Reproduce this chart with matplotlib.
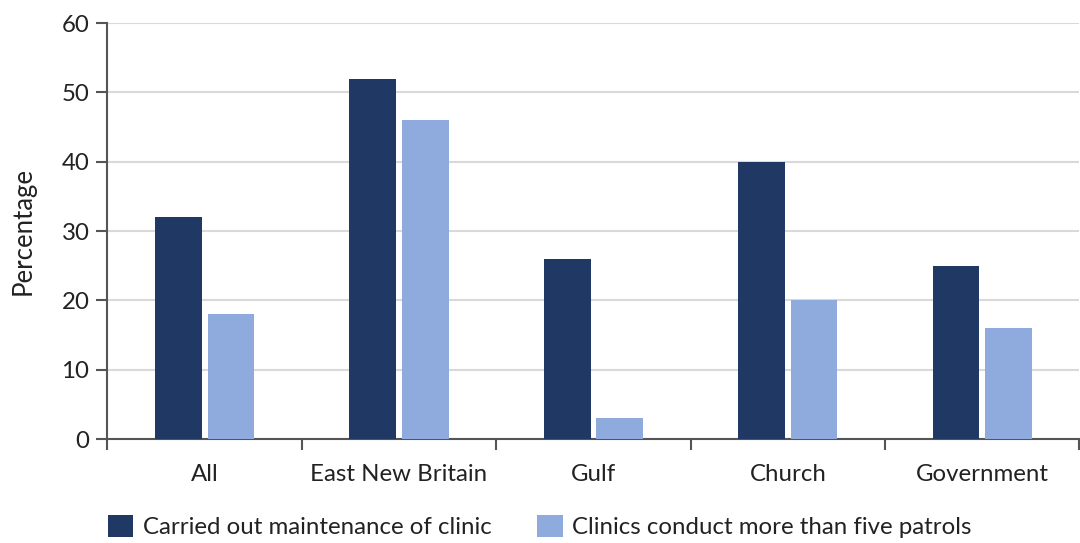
import matplotlib.pyplot as plt
import numpy as np

categories = ['All', 'East New Britain', 'Gulf', 'Church', 'Government']
maintenance = [32, 52, 26, 40, 25]
patrols = [18, 46, 3, 20, 16]
series_names = ['Carried out maintenance of clinic',
                'Clinics conduct more than five patrols']

plt.rcParams['font.family'] = ['Lato', 'DejaVu Sans']

dark = '#1f3864'
light = '#8faadc'
fs = 17.3

fig = plt.figure(figsize=(10.8, 5.43), dpi=100)
ax = fig.add_axes([0.0995, 0.1915, 0.9, 0.766])

x = np.arange(len(categories))
w = 0.24
gap = 0.03
ax.bar(x - w / 2 - gap / 2, maintenance, w, color=dark, label=series_names[0], zorder=3)
ax.bar(x + w / 2 + gap / 2, patrols, w, color=light, label=series_names[1], zorder=3)

ax.set_xlim(-0.5, len(categories) - 0.5)
ax.set_ylim(0, 60)
ax.set_yticks(range(0, 61, 10))
ax.yaxis.grid(True, color='#d9d9d9', linewidth=1.5, zorder=0)

# category labels between the boundary ticks
ax.set_xticks(x)
ax.set_xticklabels(categories)
ax.tick_params(axis='x', length=0, pad=18, labelsize=fs, labelcolor='#222222')
ax.set_xticks(np.arange(-0.5, len(categories), 1), minor=True)
ax.tick_params(axis='x', which='minor', length=8, width=1.5, color='#555555')
ax.tick_params(axis='y', length=8, width=1.5, color='#555555', labelsize=fs,
               labelcolor='#222222', pad=5)

for side in ['top', 'right']:
    ax.spines[side].set_visible(False)
for side in ['left', 'bottom']:
    ax.spines[side].set_color('#555555')
    ax.spines[side].set_linewidth(1.5)

ax.set_ylabel('Percentage', fontsize=18.5, color='#222222', labelpad=19)

fig.legend(loc='center left', bbox_to_anchor=(0.089, 0.03), ncol=2, frameon=False,
           borderpad=0, fontsize=fs, handlelength=1.05, handleheight=1.05,
           handletextpad=0.4, columnspacing=1.9, labelcolor='#222222')

fig.savefig('out.png', dpi=100)
